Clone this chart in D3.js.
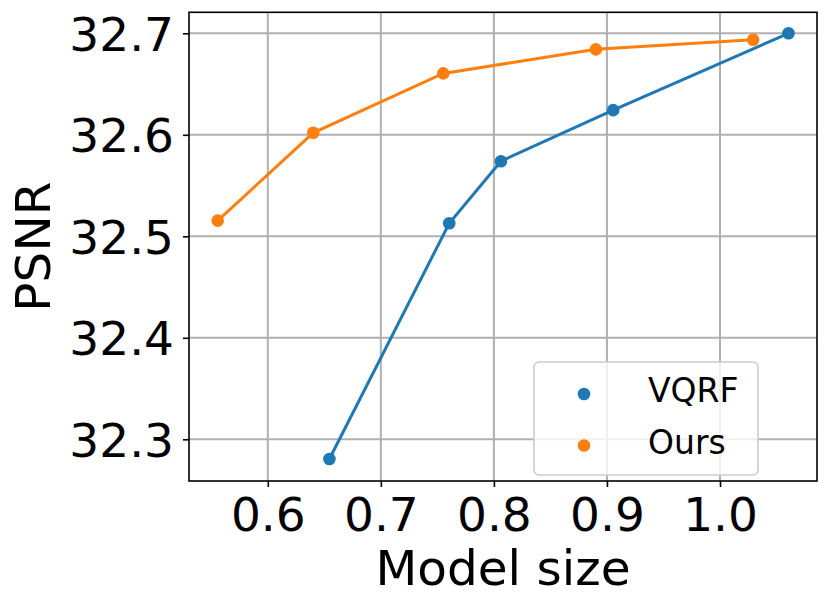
<!DOCTYPE html>
<html><head><meta charset="utf-8">
<script src="https://cdn.jsdelivr.net/npm/d3@7"></script>
<style>body{margin:0;background:#fff}svg{display:block}text{font-family:"DejaVu Sans",sans-serif}</style>
</head><body>
<svg id="c" width="830" height="608"></svg>
<script>
const vqrfX = [0.6545, 0.7605, 0.8062, 0.9055, 1.0606];
const vqrfY = [32.2806, 32.5128, 32.574, 32.6243, 32.700];
const oursX = [0.5557, 0.6402, 0.7552, 0.8902, 1.0293];
const oursY = [32.5154, 32.602, 32.6605, 32.6842, 32.6937];
const xTicks = [0.6, 0.7, 0.8, 0.9, 1.0];
const yTicks = [32.3, 32.4, 32.5, 32.6, 32.7];
const seriesNames = ["VQRF", "Ours"];
const colors = ["#1f77b4", "#ff7f0e"];

const L = 189, R = 817, T = 12.3, B = 481;
const x = d3.scaleLinear().domain([0.5303, 1.0858]).range([L, R]);
const y = d3.scaleLinear().domain([32.2589, 32.7207]).range([B, T]);
const svg = d3.select("#c");

// grid
const g = svg.append("g");
g.selectAll(".gx").data(xTicks).join("line")
  .attr("x1", d => x(d)).attr("x2", d => x(d)).attr("y1", T).attr("y2", B)
  .attr("stroke", "#b0b0b0").attr("stroke-width", 2);
g.selectAll(".gy").data(yTicks).join("line")
  .attr("y1", d => y(d)).attr("y2", d => y(d)).attr("x1", L).attr("x2", R)
  .attr("stroke", "#b0b0b0").attr("stroke-width", 2);

const series = [
  {name: seriesNames[0], xs: vqrfX, ys: vqrfY, color: colors[0]},
  {name: seriesNames[1], xs: oursX, ys: oursY, color: colors[1]}
];
const line = d3.line().x(d => x(d[0])).y(d => y(d[1]));
series.forEach(s => {
  const pts = s.xs.map((v, i) => [v, s.ys[i]]);
  svg.append("path").attr("d", line(pts)).attr("fill", "none")
    .attr("stroke", s.color).attr("stroke-width", 3);
});
series.forEach(s => {
  const pts = s.xs.map((v, i) => [v, s.ys[i]]);
  svg.append("g").selectAll("circle").data(pts).join("circle")
    .attr("cx", d => x(d[0])).attr("cy", d => y(d[1])).attr("r", 6.3)
    .attr("fill", s.color);
});

// axes
const xAxis = d3.axisBottom(x).tickValues(xTicks).tickFormat(d3.format(".1f")).tickSize(6).tickPadding(8);
const yAxis = d3.axisLeft(y).tickValues(yTicks).tickFormat(d3.format(".1f")).tickSize(6).tickPadding(9);
const gx = svg.append("g").attr("transform", `translate(0,${B})`).call(xAxis);
const gy = svg.append("g").attr("transform", `translate(${L},0)`).call(yAxis);
[gx, gy].forEach(a => {
  a.select(".domain").remove();
  a.selectAll(".tick line").attr("stroke", "#000").attr("stroke-width", 1.6);
  a.selectAll(".tick text").attr("font-size", 47).attr("fill", "#000")
    .attr("font-family", "DejaVu Sans");
});
gx.selectAll(".tick text").attr("dy", null).attr("y", 50);
gy.selectAll(".tick text").attr("dy", "0.36em");

// frame
svg.append("rect").attr("x", L).attr("y", T).attr("width", R - L).attr("height", B - T)
  .attr("fill", "none").attr("stroke", "#000").attr("stroke-width", 1.6);

// labels
svg.append("text").attr("x", (L + R) / 2).attr("y", 585).attr("text-anchor", "middle")
  .attr("font-size", 48.5).text("Model size");
svg.append("text").attr("transform", `translate(50,${(T + B) / 2}) rotate(-90)`)
  .attr("text-anchor", "middle").attr("font-size", 48.5).text("PSNR");

// legend
const lg = svg.append("g");
lg.append("rect").attr("x", 534).attr("y", 362).attr("width", 224).attr("height", 113)
  .attr("rx", 5).attr("fill", "#fff").attr("fill-opacity", 0.8)
  .attr("stroke", "#cccccc").attr("stroke-width", 1.6);
series.forEach((s, i) => {
  lg.append("circle").attr("cx", 584).attr("cy", 394 + i * 51.5).attr("r", 6.3).attr("fill", s.color);
  lg.append("text").attr("x", 648).attr("y", 402 + i * 52).attr("font-size", 33).text(s.name);
});
</script>
</body></html>
